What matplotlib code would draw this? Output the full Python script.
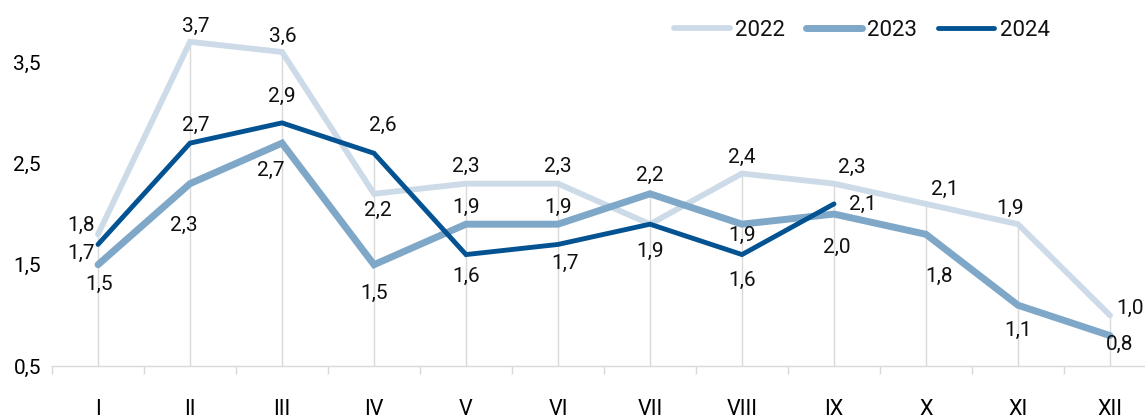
import matplotlib
matplotlib.use("Agg")
import matplotlib.pyplot as plt
import numpy as np

months = ["I", "II", "III", "IV", "V", "VI", "VII", "VIII", "IX", "X", "XI", "XII"]
y2022 = [1.8, 3.7, 3.6, 2.2, 2.3, 2.3, 1.9, 2.4, 2.3, 2.1, 1.9, 1.0]
y2023 = [1.5, 2.3, 2.7, 1.5, 1.9, 1.9, 2.2, 1.9, 2.0, 1.8, 1.1, 0.8]
y2024 = [1.7, 2.7, 2.9, 2.6, 1.6, 1.7, 1.9, 1.6, 2.1]
yticks = [0.5, 1.5, 2.5, 3.5]

plt.rcParams['font.family'] = ['Roboto', 'DejaVu Sans']

fig = plt.figure(figsize=(11.45, 4.19), dpi=100)
ax = fig.add_axes([52/1145, 53/419, (1156-52)/1145, 3.4*101.3/419])

x = np.arange(len(months))
# drop lines to the max value of each category
padded24 = y2024 + [None] * (len(months) - len(y2024))
maxv = [max(v for v in (a, b, c) if v is not None) for a, b, c in zip(y2022, y2023, padded24)]
ax.vlines(x, 0.5, maxv, color="#d9d9d9", lw=1, zorder=1)

c22, c23, c24 = "#cddbe8", "#7fa7c8", "#035393"
ax.plot(x, y2022, color=c22, lw=4.2, solid_capstyle="round", solid_joinstyle="miter", label="2022", zorder=2)
ax.plot(x, y2023, color=c23, lw=5, solid_capstyle="round", solid_joinstyle="miter", label="2023", zorder=3)
ax.plot(x[:len(y2024)], y2024, color=c24, lw=3.5, solid_capstyle="round", solid_joinstyle="miter", label="2024", zorder=4)

def fmt(v):
    return f"{v:.1f}".replace(".", ",")

# label offsets in pixels (dx, dy) relative to point; None = label hidden (coincides with another)
off22 = [(-17, 9), (6, 15), (1, 16), (4, -17), (0, 17), (0, 17), None, (0, 16), (18, 16), (19, 15), (-8, 16), (20, 7)]
off23 = [(1, -20), (-6, -42), (-11, -27), (0, -29), (0, 17), (0, 17), (0, 18), (0, -11), (3, -33), (13, -42), (0, -25), (10, -9)]
off24 = [(-17, -9), (6, 18), (0, 26), (9, 28), (0, -22), (7, -19), (0, -27), (0, -26), (29, 0)]

def annotate(vals, offs):
    for i, (v, o) in enumerate(zip(vals, offs)):
        if o is None:
            continue
        ax.annotate(fmt(v), (x[i], v), xytext=(o[0]*0.72, o[1]*0.72), textcoords="offset points",
                    ha="center", va="center", fontsize=15, color="#111111", zorder=6)

annotate(y2022, off22)
annotate(y2023, off23)
annotate(y2024, off24)

ax.set_xlim(-0.5, 11.5)
ax.set_ylim(0.5, 3.9)
ax.set_yticks(yticks)
ax.set_yticklabels([fmt(v) for v in yticks], fontsize=15)
ax.tick_params(axis="y", length=0, pad=8)
ax.set_xticks(x)
ax.set_xticklabels(months, fontsize=15.5)
ax.tick_params(axis="x", length=0, pad=24)
ax.set_xticks(np.arange(-0.5, 12, 1), minor=True)
ax.tick_params(axis="x", which="minor", length=6, color="#d9d9d9", width=1)

for s in ["top", "right", "left"]:
    ax.spines[s].set_visible(False)
ax.spines["bottom"].set_color("#d9d9d9")
ax.spines["bottom"].set_linewidth(1)

leg = ax.legend(loc="center left", bbox_to_anchor=((674 - 52) / 1104, (366 - 30) / (3.4 * 101.3)),
                ncol=3, frameon=False, fontsize=16, handlelength=2.5, handletextpad=0.25,
                columnspacing=0.95, borderaxespad=0, borderpad=0, bbox_transform=ax.transAxes)
for t in leg.get_texts():
    t.set_color("#111111")

fig.savefig("out.png", dpi=100)
